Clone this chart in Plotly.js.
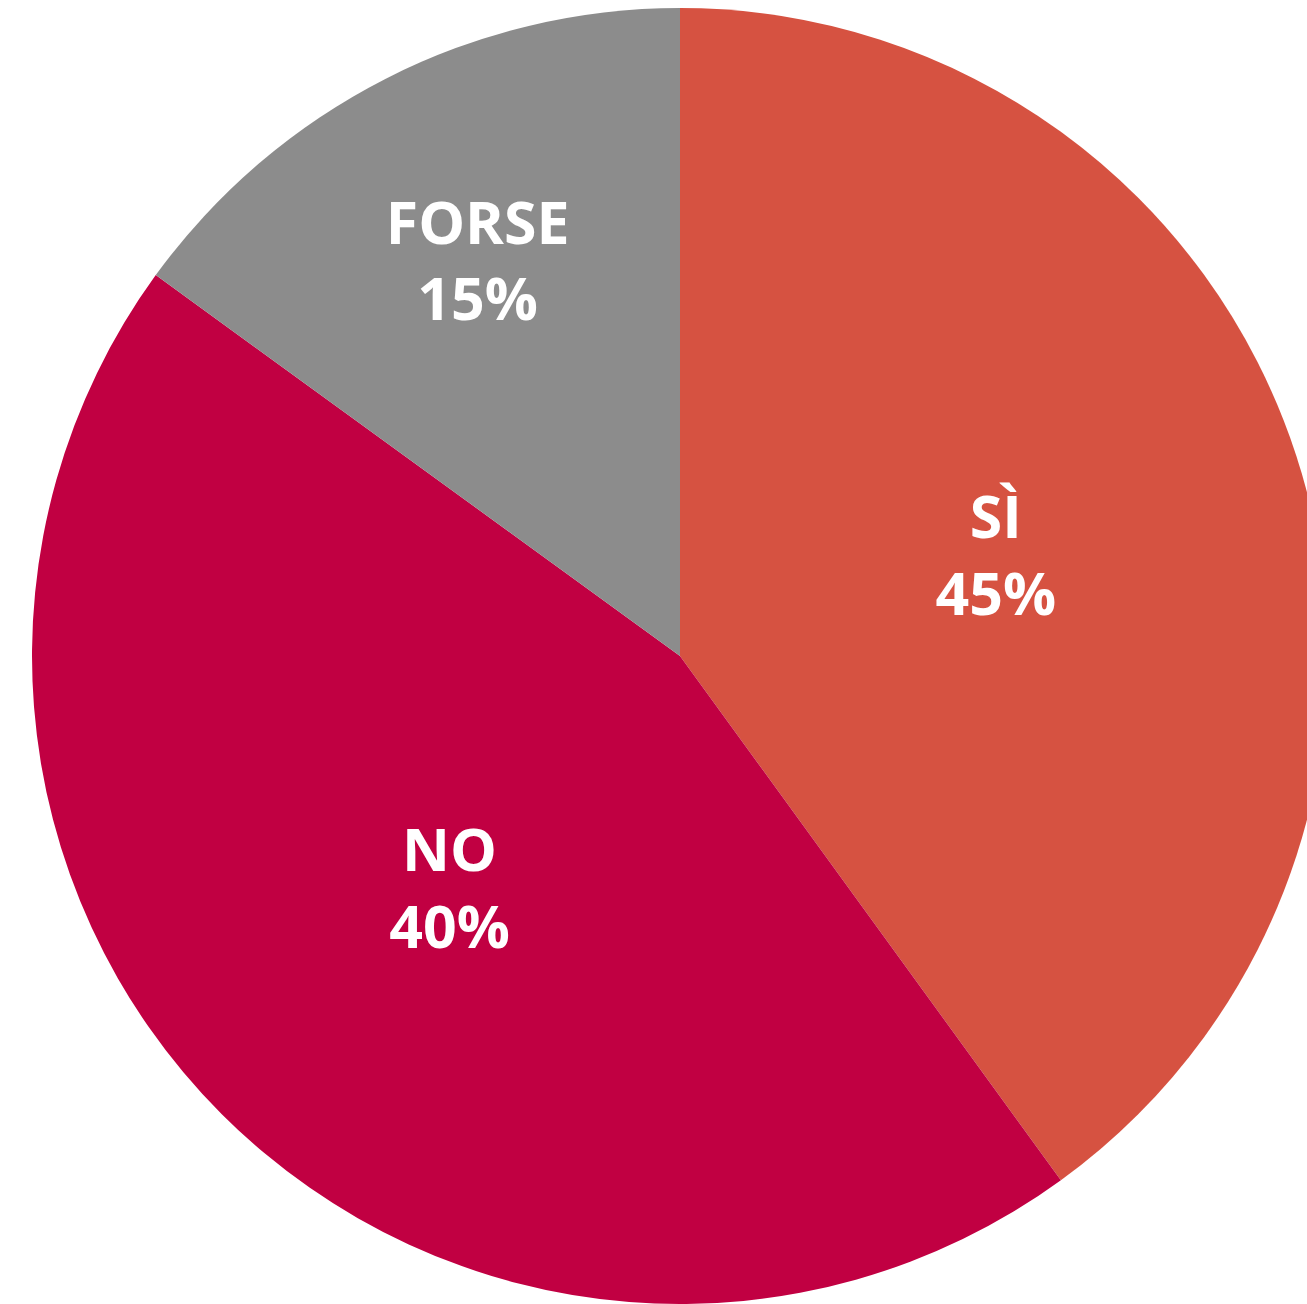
<!DOCTYPE html>
<html>
<head>
<meta charset="utf-8">
<script src="https://cdn.plot.ly/plotly-3.0.1.min.js"></script>
<style>html,body{margin:0;padding:0;overflow:hidden;background:#fff;}</style>
</head>
<body>
<div id="chart"></div>
<script>
const categories = ["SÌ", "NO", "FORSE"];
const sliceValues = [40, 45, 15];
const percentLabels = ["45%", "40%", "15%"];
const colors = ["#D65241", "#C10042", "#8C8C8C"];

const W = 1330, H = 1304;
Plotly.newPlot("chart", [{
  type: "pie",
  labels: categories,
  values: sliceValues,
  customdata: percentLabels,
  texttemplate: "%{label}<br>%{customdata}",
  textinfo: "text",
  textposition: "inside",
  insidetextorientation: "horizontal",
  sort: false,
  direction: "clockwise",
  rotation: 0,
  marker: {colors: colors, line: {width: 0}},
  textfont: {family: "Open Sans", size: 59, color: "#ffffff", weight: 700},
  hoverinfo: "none",
  domain: {x: [32 / W, 1328 / W], y: [0, 1 - 8 / H]}
}], {
  width: W,
  height: H,
  margin: {l: 0, r: 0, t: 0, b: 0},
  showlegend: false,
  paper_bgcolor: "#ffffff"
}, {displayModeBar: false, staticPlot: true});
</script>
</body>
</html>
